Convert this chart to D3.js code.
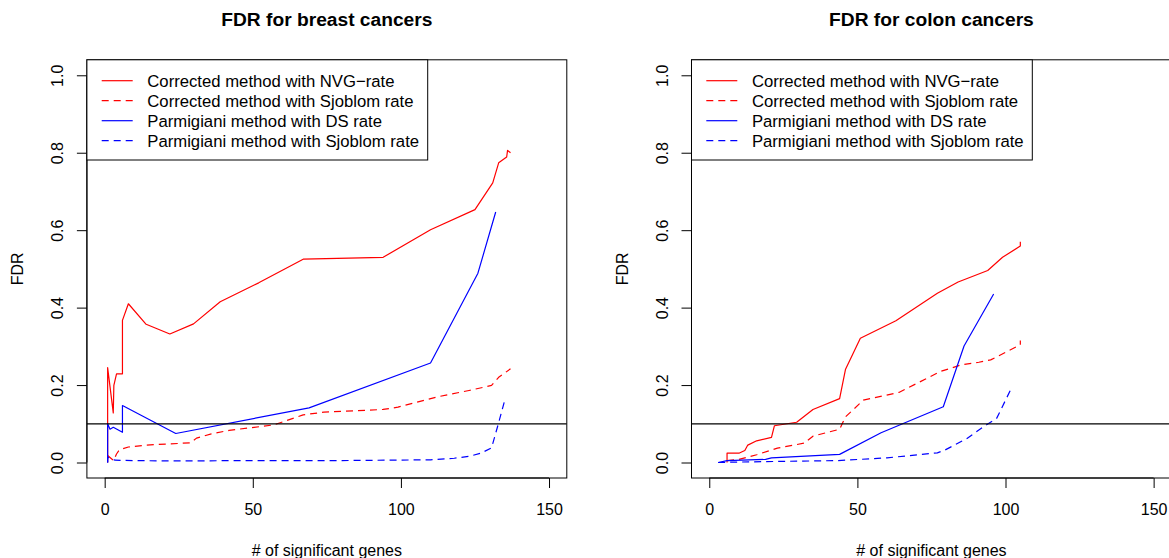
<!DOCTYPE html>
<html>
<head>
<meta charset="utf-8">
<script src="https://cdn.jsdelivr.net/npm/d3@7"></script>
<style>
  html, body { margin: 0; padding: 0; background: #ffffff; }
  svg { display: block; font-family: "Liberation Sans", Arial, Helvetica, sans-serif; }
</style>
</head>
<body>
<svg id="chart" width="1169" height="558"></svg>
<script>
// ---- data ----------------------------------------------------------------
const xTicks = [0, 50, 100, 150];
const yTicks = [0, 0.2, 0.4, 0.6, 0.8, 1.0];
const fdrThreshold = 0.1;

const legendLabels = [
  "Corrected method with NVG\u2212rate",
  "Corrected method with Sjoblom rate",
  "Parmigiani method with DS rate",
  "Parmigiani method with Sjoblom rate"
];
const seriesColors = ["#ff0000", "#ff0000", "#0000ff", "#0000ff"];
const seriesDashed = [false, true, false, true];

// breast cancers: [number of significant genes, FDR]
const breastNVG = [[1,0],[1,0.245],[2.9,0.128],[3.1,0.199],[4,0.229],[6,0.229],[6,0.367],[8,0.41],
  [14,0.357],[22,0.332],[30,0.358],[39,0.415],[52,0.464],[67,0.525],[94,0.53],[110,0.601],
  [125,0.653],[131,0.722],[133,0.774],[135.7,0.789],[136,0.806],[137,0.80]];
const breastSjoblom = [[1,0.018],[3,0.005],[4,0.022],[5,0.033],[8,0.04],[14,0.045],[22,0.048],
  [29,0.051],[31,0.063],[36,0.074],[42,0.083],[57,0.097],[67,0.123],[74,0.13],[94,0.137],
  [99,0.143],[112,0.169],[123,0.186],[130.6,0.199],[133,0.22],[137,0.242]];
const breastDS = [[1,0],[1,0.1],[1.8,0.086],[2.9,0.091],[6,0.078],[6,0.147],[24,0.075],
  [69,0.141],[110,0.257],[126,0.489],[132,0.647]];
const breastParmSjoblom = [[1,0],[1,0.014],[3.5,0.006],[10,0.005],[22,0.004],[50,0.005],
  [80,0.005],[110,0.007],[118,0.011],[123,0.016],[127,0.024],[130.6,0.038],[132.9,0.1],[135.2,0.165]];

// colon cancers
const colonNVG = [[6,0],[6,0.024],[10,0.024],[12,0.031],[13,0.045],[16,0.056],[21,0.065],
  [22,0.095],[29.5,0.104],[35,0.137],[44,0.165],[46,0.241],[51,0.321],[63,0.366],[77,0.437],
  [84,0.466],[94,0.496],[99,0.53],[105,0.559],[105,0.57]];
const colonSjoblom = [[6,0.005],[10,0.008],[16,0.02],[23,0.037],[32,0.05],[35,0.068],[44,0.086],
  [46,0.118],[52,0.161],[64,0.181],[78,0.235],[85,0.252],[91,0.259],[95,0.265],[105,0.304],[105,0.315]];
const colonDS = [[3,0],[6,0.005],[19,0.008],[21,0.012],[44,0.021],[58,0.077],[79,0.144],
  [86,0.301],[96,0.435]];
const colonParmSjoblom = [[3,0],[8,0.001],[25,0.003],[43.5,0.005],[60,0.012],[77,0.025],
  [79.5,0.032],[87,0.062],[92.5,0.092],[97,0.114],[102,0.192]];

const panels = [
  { title: "FDR for breast cancers", offset: 0,
    series: [breastNVG, breastSjoblom, breastDS, breastParmSjoblom] },
  { title: "FDR for colon cancers", offset: 604.6,
    series: [colonNVG, colonSjoblom, colonDS, colonParmSjoblom] }
];

// ---- layout --------------------------------------------------------------
const W = 1169, H = 558;
const box = { left: 86.9, right: 566.8, top: 59.8, bottom: 478 };
const fontSize = 16;
const legendFontSize = 16.7;
const dash = "7,5";

const svg = d3.select("#chart");
svg.append("rect").attr("width", W).attr("height", H).attr("fill", "#fff");

panels.forEach((p, pi) => {
  const g = svg.append("g").attr("transform", `translate(${p.offset},0)`);

  const x = d3.scaleLinear().domain([-6, 156]).range([box.left, box.right]);
  const y = d3.scaleLinear().domain([-0.04, 1.04]).range([box.bottom, box.top]);

  const clipId = "clip" + pi;
  g.append("clipPath").attr("id", clipId)
    .append("rect")
    .attr("x", box.left).attr("y", box.top)
    .attr("width", box.right - box.left).attr("height", box.bottom - box.top);

  // title
  g.append("text")
    .attr("x", (box.left + box.right) / 2).attr("y", 26)
    .attr("text-anchor", "middle")
    .attr("font-weight", "bold").attr("font-size", 19.2)
    .text(p.title);

  // series lines
  const line = d3.line().x(d => x(d[0])).y(d => y(d[1]));
  const plot = g.append("g").attr("clip-path", `url(#${clipId})`);
  p.series.forEach((s, i) => {
    plot.append("path")
      .datum(s)
      .attr("d", line)
      .attr("fill", "none")
      .attr("stroke", seriesColors[i])
      .attr("stroke-width", 1.2)
      .attr("stroke-linejoin", "round")
      .attr("stroke-dasharray", seriesDashed[i] ? dash : null);
  });

  // threshold line
  plot.append("line")
    .attr("x1", box.left).attr("x2", box.right)
    .attr("y1", y(fdrThreshold)).attr("y2", y(fdrThreshold))
    .attr("stroke", "#000").attr("stroke-width", 1.2);

  // x axis
  const xAxis = d3.axisBottom(x).tickValues(xTicks).tickSize(10).tickSizeOuter(0)
    .tickFormat(d3.format("d"));
  const gx = g.append("g").attr("transform", `translate(0,${box.bottom})`).call(xAxis);
  gx.select(".domain").remove();
  gx.append("line").attr("x1", x(xTicks[0])).attr("x2", x(xTicks[xTicks.length - 1]))
    .attr("stroke", "#000");
  gx.selectAll(".tick line").attr("stroke", "#000");
  gx.selectAll(".tick text")
    .attr("y", 37).attr("dy", null)
    .attr("fill", "#000").attr("font-size", fontSize)
    .attr("font-family", "Liberation Sans, Arial, sans-serif");

  // y axis
  const yAxis = d3.axisLeft(y).tickValues(yTicks).tickSize(10).tickSizeOuter(0)
    .tickFormat(d3.format(".1f"));
  const gy = g.append("g").attr("transform", `translate(${box.left},0)`).call(yAxis);
  gy.select(".domain").remove();
  gy.append("line").attr("y1", y(yTicks[0])).attr("y2", y(yTicks[yTicks.length - 1]))
    .attr("stroke", "#000");
  gy.selectAll(".tick line").attr("stroke", "#000");
  gy.selectAll(".tick text")
    .attr("x", null).attr("dy", null)
    .attr("transform", "translate(-23.6,0) rotate(-90)")
    .attr("text-anchor", "middle")
    .attr("fill", "#000").attr("font-size", fontSize)
    .attr("font-family", "Liberation Sans, Arial, sans-serif");

  // axis titles
  g.append("text")
    .attr("x", (box.left + box.right) / 2).attr("y", 556)
    .attr("text-anchor", "middle").attr("font-size", fontSize)
    .text("# of significant genes");
  g.append("text")
    .attr("transform", `translate(23.3,${(box.top + box.bottom) / 2}) rotate(-90)`)
    .attr("text-anchor", "middle").attr("font-size", fontSize)
    .text("FDR");

  // plot frame
  g.append("rect")
    .attr("x", box.left).attr("y", box.top)
    .attr("width", box.right - box.left).attr("height", box.bottom - box.top)
    .attr("fill", "none").attr("stroke", "#000").attr("stroke-width", 1);

  // legend (top-left inside the frame)
  const lg = g.append("g");
  const lgW = 340.8, lgH = 100.2;
  lg.append("rect")
    .attr("x", box.left).attr("y", box.top)
    .attr("width", lgW).attr("height", lgH)
    .attr("fill", "#fff").attr("stroke", "#000").attr("stroke-width", 1);
  legendLabels.forEach((lab, i) => {
    const cy = 80.7 + i * 20;
    lg.append("line")
      .attr("x1", box.left + 14.8).attr("x2", box.left + 45.8)
      .attr("y1", cy).attr("y2", cy)
      .attr("stroke", seriesColors[i]).attr("stroke-width", 1.2)
      .attr("stroke-dasharray", seriesDashed[i] ? dash : null);
    lg.append("text")
      .attr("x", box.left + 60.4).attr("y", cy + 6)
      .attr("font-size", legendFontSize)
      .text(lab);
  });
});
</script>
</body>
</html>
